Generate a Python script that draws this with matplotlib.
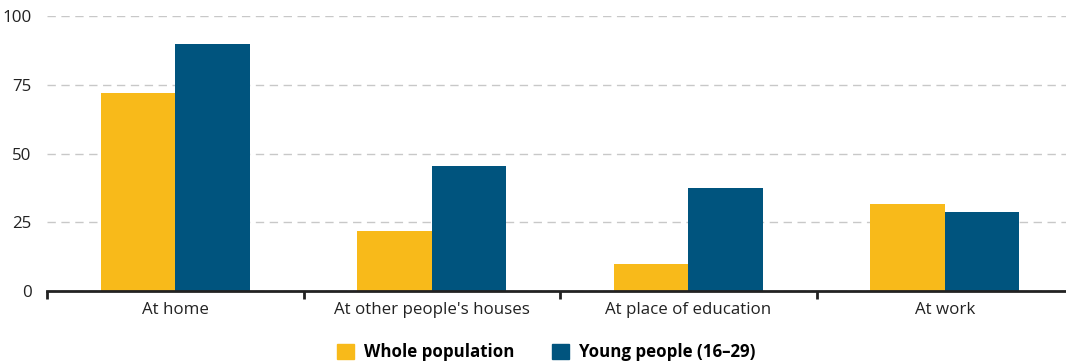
import matplotlib
matplotlib.use("Agg")
import matplotlib.pyplot as plt
import numpy as np
from matplotlib.patches import Patch

categories = ["At home", "At other people's houses", "At place of education", "At work"]
whole_population = [72, 22, 10, 31.6]
young_people = [90, 45.5, 37.5, 28.7]
series_names = ["Whole population", "Young people (16\u201329)"]
yticks = [0, 25, 50, 75, 100]

c_yellow = "#F8BA1A"
c_blue = "#00547E"

plt.rcParams['font.family'] = ['Open Sans', 'DejaVu Sans']

fig = plt.figure(figsize=(10.66, 3.64), dpi=100)
ax = fig.add_axes([47/1066, 73/364, (1073-47)/1066, (291-16)/364])

x = np.arange(len(categories))
w = 0.29
ax.bar(x - w/2, whole_population, w, color=c_yellow, label=series_names[0])
ax.bar(x + w/2, young_people, w, color=c_blue, label=series_names[1])

ax.set_xlim(-0.5, 3.5)
ax.set_ylim(0, 100)
ax.set_yticks(yticks)
ax.set_yticklabels([str(t) for t in yticks], fontsize=12.2, color="#222222")
ax.tick_params(axis='y', length=0, pad=11)
ax.yaxis.grid(True, linestyle=(0, (6, 4)), color="#c8c8c8", linewidth=1)
ax.set_axisbelow(True)

ax.set_xticks(np.arange(-0.5, 3.5, 1.0))
ax.set_xticklabels([])
ax.set_xticks(x, minor=True)
ax.set_xticklabels(categories, minor=True, fontsize=12.2, color="#222222")
ax.tick_params(axis='x', which='major', length=6, width=2, direction='out', color="#222222")
ax.tick_params(axis='x', which='minor', length=0, pad=8)

for s in ['top', 'right', 'left']:
    ax.spines[s].set_visible(False)
ax.spines['bottom'].set_linewidth(2)
ax.spines['bottom'].set_color("#222222")

handles = [Patch(color=c_yellow, label=series_names[0]), Patch(color=c_blue, label=series_names[1])]
fig.legend(handles=handles, loc='center', bbox_to_anchor=(546/1066, 1 - 352/364), ncol=2,
           frameon=False, prop={'weight': 'bold', 'size': 12.2}, handlelength=1.0, handleheight=1.0,
           columnspacing=2.2, handletextpad=0.6)

fig.savefig("out.png", dpi=100)
